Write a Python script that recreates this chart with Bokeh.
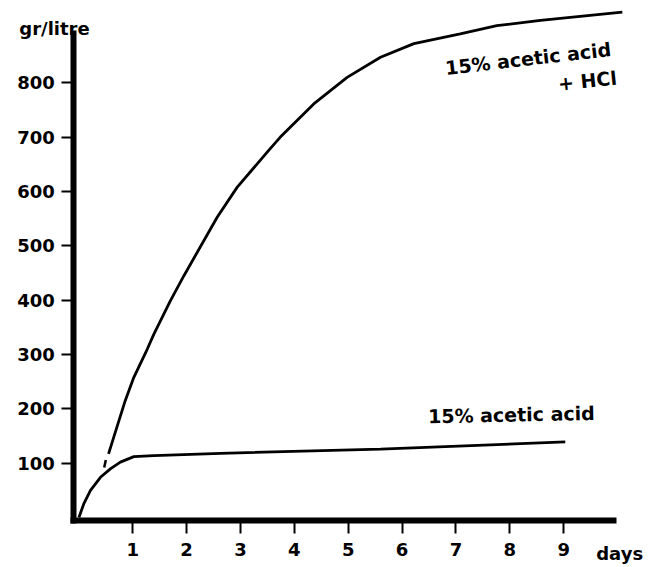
from bokeh.plotting import figure
from bokeh.models import FixedTicker, Range1d, Label, ColumnDataSource
from bokeh.core.properties import value
from bokeh.embed import file_html
from bokeh.resources import INLINE

# ---- data ----
upper_days = [0.55, 0.86, 1.02, 1.27, 1.39, 1.70, 1.95, 2.57, 2.94, 3.52, 3.74,
              4.36, 4.98, 5.60, 6.22, 7.08, 7.76, 8.57, 10.09]
upper_vals = [117, 215, 258, 310, 337, 399, 445, 553, 608, 675, 700,
              761, 810, 847, 872, 890, 905, 915, 930]

branch_days = [0.47, 0.50]
branch_vals = [92, 106]

lower_days = [0, 0.09, 0.215, 0.40, 0.59, 0.77, 1.02, 1.39, 2.63, 5.6, 9.03]
lower_vals = [0, 25, 50, 74, 90, 102, 112, 114, 118, 126, 139]

x_ticks = [1, 2, 3, 4, 5, 6, 7, 8, 9]
y_ticks = [100, 200, 300, 400, 500, 600, 700, 800]

note_texts = ["15% acetic acid", "+ HCl", "15% acetic acid"]
note_x = [8.34, 9.44, 8.03]
note_y = [844.7, 804.0, 189.5]
note_angle = [0.115, 0.105, 0.02]

y_title = "gr/litre"
x_title = "days"

FONT = "DejaVu Sans"

p = figure(width=649, height=567,
           x_range=Range1d(-1.4556, 10.594), y_range=Range1d(-92.0, 951.4),
           output_backend="svg", toolbar_location=None,
           min_border_left=0, min_border_right=0,
           min_border_top=0, min_border_bottom=0)
p.grid.visible = False
p.outline_line_color = None
p.background_fill_color = "white"
p.border_fill_color = "white"

for ax, ticks, bounds, tout, loc in ((p.xaxis[0], x_ticks, (-0.095, 9.92), 13, -5.0),
                                     (p.yaxis[0], y_ticks, (-5.0, 891), 12, -0.095)):
    ax.fixed_location = loc
    ax.ticker = FixedTicker(ticks=ticks)
    ax.bounds = bounds
    ax.axis_line_width = 6
    ax.axis_line_color = "black"
    ax.axis_line_cap = "square"
    ax.major_tick_line_width = 2
    ax.major_tick_line_color = "black"
    ax.major_tick_out = tout
    ax.major_tick_in = 0
    ax.minor_tick_out = 0
    ax.minor_tick_in = 0
    ax.major_label_text_font = FONT
    ax.major_label_text_font_style = "bold"
    ax.major_label_text_font_size = "18px"
    ax.major_label_text_color = "black"

p.xaxis[0].major_label_standoff = 10
p.yaxis[0].major_label_standoff = 7

p.line(upper_days, upper_vals, line_color="black", line_width=2.8)
p.line(branch_days, branch_vals, line_color="black", line_width=2.5)
p.line(lower_days, lower_vals, line_color="black", line_width=2.8)

src = ColumnDataSource(dict(x=note_x, y=note_y, t=note_texts, a=note_angle))
p.text(x="x", y="y", text="t", angle="a", source=src,
       text_font=value(FONT), text_font_style="bold", text_font_size="19px",
       text_align="center", text_baseline="middle", text_color="black")

p.add_layout(Label(x=-0.453, y=899.3, text=y_title, text_font=FONT,
                   text_font_style="bold", text_font_size="18px",
                   text_align="center", text_baseline="alphabetic",
                   text_color="black"))
p.add_layout(Label(x=10.04, y=-66.0, text=x_title, text_font=FONT,
                   text_font_style="bold", text_font_size="18px",
                   text_align="center", text_baseline="alphabetic",
                   text_color="black"))

open("out.html", "w").write(file_html(p, INLINE))
